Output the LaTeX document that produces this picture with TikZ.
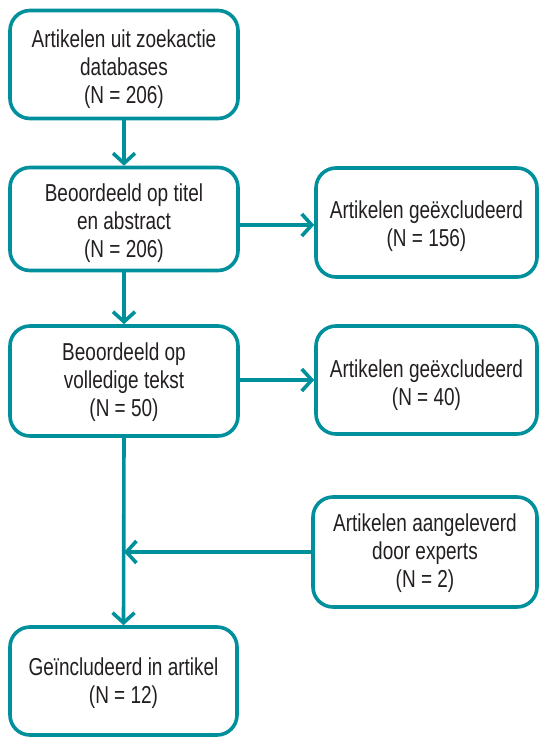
\documentclass[tikz,border=0pt]{standalone}
\usepackage{fontspec}
\setmainfont{Liberation Sans}[FakeStretch=0.775]
\usetikzlibrary{arrows.meta}
\definecolor{teal1}{HTML}{00909C}
\definecolor{txt}{HTML}{231F20}
\newcommand\boxtxt[2]{\raisebox{#1}[\height][\depth]{\begin{tabular}{@{}c@{}}#2\end{tabular}}}
\tikzset{
  box/.style={draw=teal1, line width=3.6pt, rounded corners=20pt, align=center,
    text=txt, font=\fontsize{24.5}{28}\selectfont, inner sep=0pt},
  conn/.style={draw=teal1, line width=3.6pt, -{Straight Barb[length=10pt,width=22pt,line width=3.6pt]}}
}
\begin{document}
\begin{tikzpicture}[x=1pt,y=-1pt]
\useasboundingbox (0,0) rectangle (540,738);
\node[box, minimum width=228pt, minimum height=108pt] (a) at (124,64.5) {\boxtxt{-5pt}{Artikelen uit zoekactie\\databases\\(N = 206)}};
\node[box, minimum width=228pt, minimum height=103pt] (b) at (124,219) {\boxtxt{-5pt}{Beoordeeld op titel\\en abstract\\(N = 206)}};
\node[box, minimum width=221pt, minimum height=109pt] (c) at (426.5,222.5) {\boxtxt{-4.5pt}{Artikelen geëxcludeerd\\(N = 156)}};
\node[box, minimum width=228pt, minimum height=110pt] (d) at (124,381) {\boxtxt{-2pt}{Beoordeeld op\\volledige tekst\\(N = 50)}};
\node[box, minimum width=221pt, minimum height=108pt] (e) at (426.5,380) {\boxtxt{-5.5pt}{Artikelen geëxcludeerd\\(N = 40)}};
\node[box, minimum width=224pt, minimum height=110pt] (f) at (425,552) {\boxtxt{-1.5pt}{Artikelen aangeleverd\\door experts\\(N = 2)}};
\node[box, minimum width=227pt, minimum height=108pt] (g) at (123.5,681) {\boxtxt{-2.5pt}{Geïncludeerd in artikel\\(N = 12)}};
\coordinate (j) at (124,552);
\draw[conn] (a.south) -- (b.north);
\draw[conn] (b.east |- 0,225) -- (c.west |- 0,225);
\draw[conn] (b.south) -- (d.north);
\draw[conn] (d.east |- 0,380) -- (e.west |- 0,380);
\draw[conn] (d.south) -- (g.north);
\draw[conn] (f.west) -- (j);
\end{tikzpicture}
\end{document}
